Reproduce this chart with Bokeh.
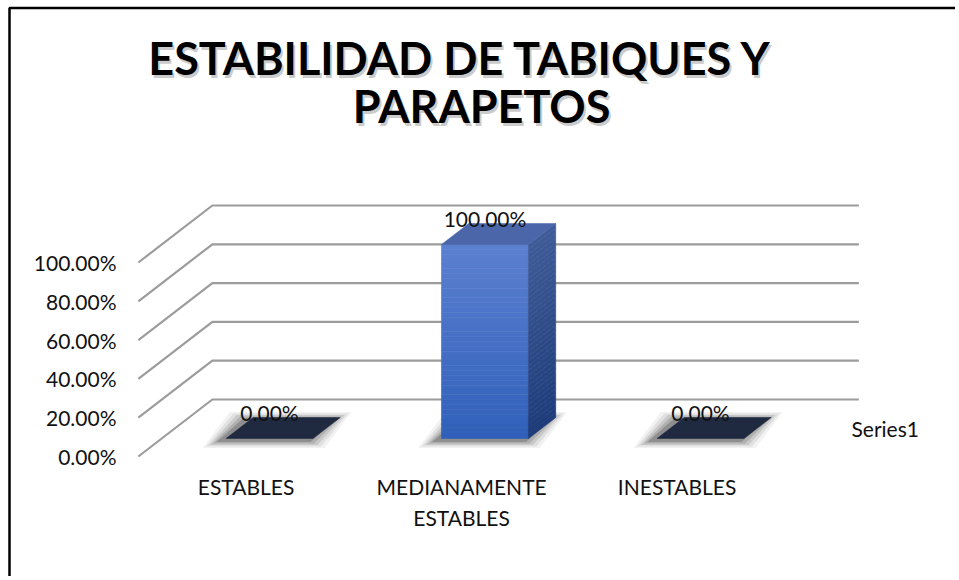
import numpy as np
from bokeh.plotting import figure
from bokeh.models import Range1d
from bokeh.embed import file_html
from bokeh.resources import INLINE
from bokeh.core.properties import value

# ---------------- data ----------------
categories = ["ESTABLES", "MEDIANAMENTE\nESTABLES", "INESTABLES"]
values = [0.0, 1.0, 0.0]
data_labels = ["0.00%", "100.00%", "0.00%"]
y_ticks = [0.0, 0.2, 0.4, 0.6, 0.8, 1.0]
y_tick_labels = ["0.00%", "20.00%", "40.00%", "60.00%", "80.00%", "100.00%"]
series_name = "Series1"
title_lines = ["ESTABILIDAD DE TABIQUES Y", "PARAPETOS"]

# ---------------- geometry (layout only) ----------------
W, H = 955, 576
PX_X = 215.5     # pixels per category step
PX_Y = 194.0     # pixels per 100%
X0_PX = 245.6    # category 0 at front plane (px from figure left)
Y0_PX = 456.0    # 0% at front plane (px from figure top)

def dx(px):
    return px / PX_X

def dy(px):
    return px / PX_Y

def sx(px):   # figure-pixel x -> data x
    return (px - X0_PX) / PX_X

def sy(py):   # figure-pixel y -> data y
    return (Y0_PX - py) / PX_Y

DX, DY = dx(74), dy(57)          # full depth of the 3D box
D0, D1 = 0.316, 0.684            # depth span of bars
HW = dx(43.5)                    # half bar width
XL, XR = -0.5, len(categories) - 0.5

def P(x, y, d):
    return x + d * DX, y + d * DY

p = figure(width=W, height=H, output_backend="svg", toolbar_location=None,
           x_range=Range1d(sx(0), sx(W)), y_range=Range1d(sy(H), sy(0)),
           min_border=0, outline_line_color=None)
p.axis.visible = False
p.grid.visible = False
p.background_fill_color = "white"

FONT = value("Lato")

# ---- chart border (left & top) ----
p.line([sx(9), sx(9), sx(W)], [sy(H), sy(7.5), sy(7.5)], line_color="black", line_width=2.5)

# ---- gridlines / side wall ----
gx, gy = [], []
for v in y_ticks:
    a = P(XL, v, 0)
    b = P(XL, v, 1)
    c = P(XR, v, 1)
    gx.append([a[0], b[0], c[0]])
    gy.append([a[1], b[1], c[1]])
p.multi_line(gx, gy, line_color="#9c9c9c", line_width=2.2)

# ---- axis tick labels ----
p.text(x=[sx(116)] * len(y_ticks), y=y_ticks, text=y_tick_labels,
       text_font=FONT, text_font_size="21px", text_color="#111111",
       text_align="right", text_baseline="middle")

def lerp(c1, c2, t):
    return "#%02x%02x%02x" % tuple(int(round(a + (b - a) * t)) for a, b in zip(c1, c2))

# ---- bars ----
for i, v in enumerate(values):
    xa, xb = i - HW, i + HW
    # blurred shadow at the base
    for k, al in zip([5, 4, 3, 2, 1], [0.05, 0.07, 0.10, 0.13, 0.18]):
        ex, ey = dx(3.5 * k), dy(1.5 * k)
        sh = dx(-6)
        pts = [P(xa - ex + sh, -ey - dy(2), D0), P(xb + ex + sh, -ey - dy(2), D0),
               P(xb + ex + sh, ey - dy(2), D1), P(xa - ex + sh, ey - dy(2), D1)]
        p.patch([q[0] for q in pts], [q[1] for q in pts], fill_color="black",
                fill_alpha=al, line_color=None)
    if v > 0:
        n = 40
        for j in range(n):
            y1, y2 = v * j / n, v * (j + 1) / n
            t = 1 - (j + 0.5) / n
            cf = lerp((92, 128, 208), (48, 96, 186), t)
            pts = [P(xa, y1, D0), P(xb, y1, D0), P(xb, y2, D0), P(xa, y2, D0)]
            p.patch([q[0] for q in pts], [q[1] for q in pts], fill_color=cf, line_color=cf, line_width=0.6)
            cs = lerp((64, 92, 152), (30, 60, 122), t)
            pts = [P(xb, y1, D0), P(xb, y1, D1), P(xb, y2, D1), P(xb, y2, D0)]
            p.patch([q[0] for q in pts], [q[1] for q in pts], fill_color=cs, line_color=cs, line_width=0.6)
        top_col = "#4b67a9"
    else:
        top_col = "#1f2940"
    pts = [P(xa, v, D0), P(xb, v, D0), P(xb, v, D1), P(xa, v, D1)]
    p.patch([q[0] for q in pts], [q[1] for q in pts], fill_color=top_col, line_color=top_col, line_width=0.5)

# ---- data labels ----
lx = [P(i, v, D0)[0] for i, v in enumerate(values)]
ly = [P(i, v, D0)[1] for i, v in enumerate(values)]
p.text(x=lx, y=ly, text=data_labels, text_font=FONT, text_font_size="21px",
       text_color="#111111", text_align="center", text_baseline="middle", y_offset=-26)

# ---- category labels ----
p.text(x=list(range(len(categories))), y=[0] * len(categories), text=categories,
       text_font=FONT, text_font_size="21px", text_color="#111111",
       text_align="center", text_baseline="top", y_offset=17, text_line_height=1.25)

# ---- legend text ----
p.text(x=[sx(851)], y=[sy(428)], text=[series_name], text_font=FONT,
       text_font_size="21px", text_color="#111111", text_align="left", text_baseline="middle")

# ---- title with shadow ----
tx = [sx(460), sx(481)]
ty = [sy(57), sy(105)]
p.text(x=tx, y=ty, text=title_lines, text_font=FONT, text_font_size="45px",
       text_font_style="bold", text_color="#8a8a8a", text_alpha=0.45,
       text_align="center", text_baseline="middle", x_offset=2, y_offset=3)
p.text(x=tx, y=ty, text=title_lines, text_font=FONT, text_font_size="45px",
       text_font_style="bold", text_color="#000000",
       text_align="center", text_baseline="middle")

open("out.html", "w").write(file_html(p, INLINE))
